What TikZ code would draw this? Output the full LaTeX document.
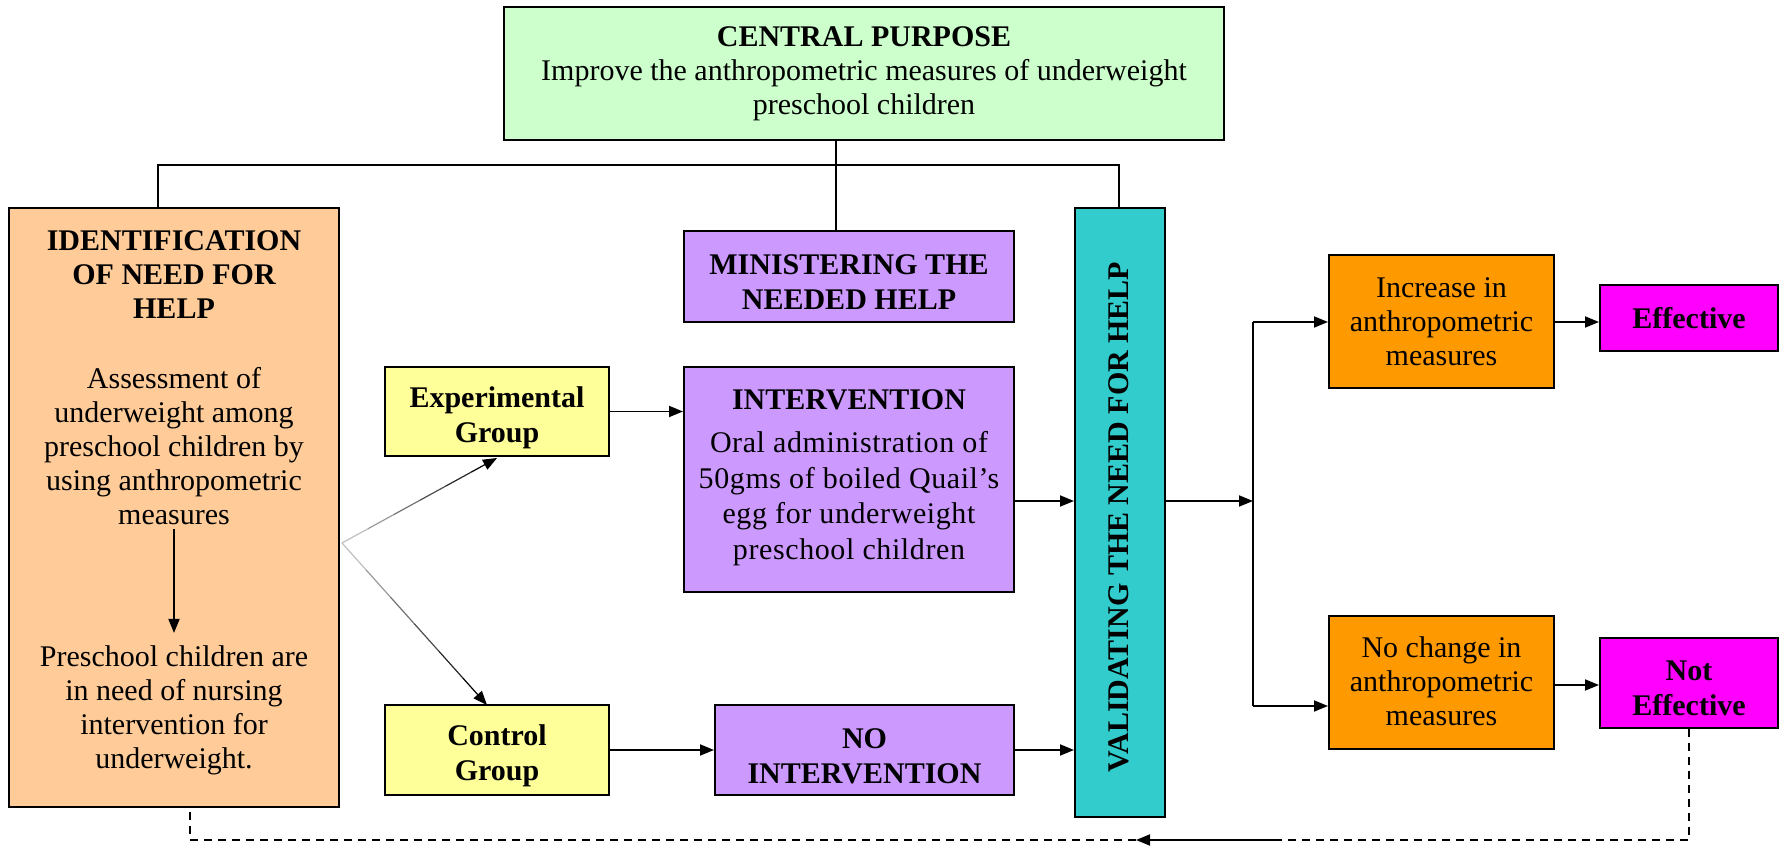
\documentclass[tikz,border=0pt]{standalone}
\usepackage{fontspec}
\setmainfont{Liberation Serif}
\usetikzlibrary{arrows.meta,calc}
\definecolor{cgreen}{HTML}{CCFFCC}
\definecolor{cpeach}{HTML}{FFCC99}
\definecolor{clav}{HTML}{CC99FF}
\definecolor{cyel}{HTML}{FFFF99}
\definecolor{cteal}{HTML}{33CCCC}
\definecolor{corange}{HTML}{FF9900}
\definecolor{cmag}{HTML}{FF00FF}
\newcommand\myfs{\fontsize{15}{17}\selectfont}
\newcommand\myfsb{\fontsize{15}{17.6}\selectfont\bfseries}
\newcommand\myfsw{\fontsize{15}{17.8}\selectfont\addfontfeatures{LetterSpace=2}}
\begin{document}
\begin{tikzpicture}[x=0.5pt,y=-0.5pt,
  box/.style={draw, line width=1pt, inner sep=0pt, align=center, font=\myfs},
  txt/.style={inner sep=2pt, align=center, font=\myfs},
  btxt/.style={inner sep=2pt, align=center, font=\myfsb},
  ln/.style={line width=0.9pt},
  arr/.style={line width=0.9pt, -{Triangle[length=7pt,width=5.5pt]}},
  dsh/.style={line width=0.9pt, dash pattern=on 4pt off 3pt}]
\useasboundingbox (0,0) rectangle (1785,849);

% boxes
\node[box, fill=cgreen, minimum width=360pt, minimum height=66.5pt] (central) at (864,73.5)
  {\textbf{CENTRAL PURPOSE}\\Improve the anthropometric measures of underweight\\preschool children};
\node[box, fill=cpeach, minimum width=165pt, minimum height=299.5pt] (ident) at (174,507.5) {};
\node[txt, font=\myfs\bfseries] (identt) at (174,275) {IDENTIFICATION\\OF NEED FOR\\HELP};
\node[txt] (assess) at (174,446) {Assessment of\\underweight among\\preschool children by\\using anthropometric\\measures};
\node[txt] (presch) at (174,710) {Preschool children are\\in need of nursing\\intervention for\\underweight.};

\node[box, fill=clav, minimum width=165pt, minimum height=45.5pt] (minis) at (849,276.5) {};
\node[btxt] (minist) at (849,282) {MINISTERING THE\\NEEDED HELP};
\node[box, fill=clav, minimum width=165pt, minimum height=112.5pt] (interv) at (849,479.5) {};
\node[btxt] (intervt) at (849,400) {INTERVENTION};
\node[txt, font=\myfsw] (intervb) at (849,498.5)
  {Oral administration of\\50gms of boiled Quail’s\\egg for underweight\\preschool children};
\node[box, fill=clav, minimum width=149.5pt, minimum height=45pt] (nointerv) at (864.5,750) {};
\node[btxt] (nointervt) at (864.5,756) {NO\\INTERVENTION};
\node[box, fill=cyel, minimum width=112pt, minimum height=44.5pt] (exp) at (497,411.5) {};
\node[btxt] (expt) at (497,417.5) {Experimental\\Group};
\node[box, fill=cyel, minimum width=112pt, minimum height=45pt] (ctrl) at (497,750) {};
\node[btxt] (ctrlt) at (497,756) {Control\\Group};
\node[box, fill=cteal, minimum width=45pt, minimum height=304.5pt] (valid) at (1120,512.5) {};
\node[rotate=90, font=\myfs\bfseries] (validt) at (1119,517) {VALIDATING THE NEED FOR HELP};
\node[box, fill=corange, minimum width=112.5pt, minimum height=66.5pt] (incr) at (1441.5,321.5)
  {Increase in\\anthropometric\\measures};
\node[box, fill=corange, minimum width=112.5pt, minimum height=66.5pt] (nochg) at (1441.5,683) {};
\node[txt] (nochgt) at (1441.5,681) {No change in\\anthropometric\\measures};
\node[box, fill=cmag, minimum width=89pt, minimum height=33pt, font=\myfs\bfseries] (eff) at (1689,318)
  {Effective};
\node[box, fill=cmag, minimum width=89pt, minimum height=45pt] (noteff) at (1689,683) {};
\node[btxt] (notefft) at (1689,688.5) {Not\\Effective};

% top connectors
\coordinate (tl) at (158,165);
\coordinate (tr) at (1119,165);
\coordinate (tm) at (836,165);
\draw[ln] (tl |- ident.north) -- (tl) -- (tr) -- (tr |- valid.north);
\draw[ln] (tm |- central.south) -- (tm |- minis.north);

% inner arrow
\draw[arr, shorten >=4pt] (assess.south) -- (presch.north);

% fan
\coordinate (fan) at (342,543);
\coordinate (fe) at (497,458);
\coordinate (fc) at (487,705);
\foreach \i in {0,...,4}{
  \pgfmathsetmacro\g{25+\i*15}
  \draw[line width=0.6pt, black!\g] ($(fan)!\i/6!(fe)$) -- ($(fan)!\i/6+1/6!(fe)$);
  \draw[line width=0.6pt, black!\g] ($(fan)!\i/6!(fc)$) -- ($(fan)!\i/6+1/6!(fc)$);
}
\draw[line width=0.6pt, -{Triangle[length=7pt,width=5.5pt]}] ($(fan)!5/6!(fe)$) -- (fe);
\draw[line width=0.6pt, -{Triangle[length=7pt,width=5.5pt]}] ($(fan)!5/6!(fc)$) -- (fc);

% middle arrows
\coordinate (iy) at (0,501);
\draw[arr] (exp.east) -- (exp.east -| interv.west);
\draw[arr] (interv.east |- iy) -- (valid.west |- iy);
\draw[arr] (ctrl.east) -- (ctrl.east -| nointerv.west);
\draw[arr] (nointerv.east) -- (nointerv.east -| valid.west);

% right branch
\coordinate (br) at (1253,501);
\coordinate (bt) at (1253,322);
\coordinate (bb) at (1253,706);
\coordinate (ny) at (0,685);
\draw[arr] (valid.east |- br) -- (br);
\draw[ln] (bt) -- (bb);
\draw[arr] (bt) -- (bt -| incr.west);
\draw[arr] (bb) -- (bb -| nochg.west);
\draw[arr] (incr.east |- bt) -- (bt -| eff.west);
\draw[arr] (nochg.east |- ny) -- (noteff.west |- ny);

% feedback
\coordinate (d1) at (1689,840);
\coordinate (d2) at (1274,840);
\coordinate (d3) at (1136,840);
\coordinate (d4) at (190,840);
\draw[dsh] (noteff.south) -- (d1) -- (d2);
\draw[arr] (d2) -- (d3);
\draw[dsh] (d3) -- (d4) -- (d4 |- ident.south);
\end{tikzpicture}
\end{document}
